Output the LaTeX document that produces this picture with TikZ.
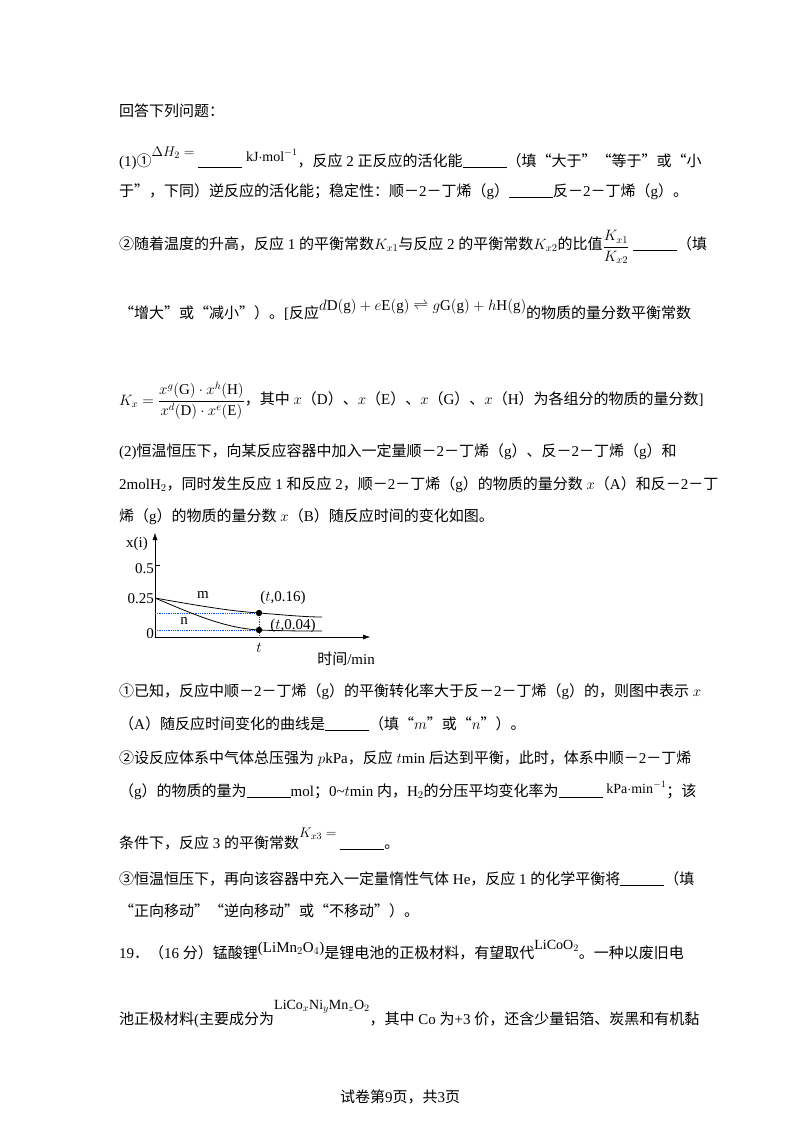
\documentclass[tikz,border=0pt]{standalone}
\usepackage{fix-cm}
\usepackage{amsmath}
\usepackage{fontspec}
\usetikzlibrary{arrows.meta}
\setmainfont{Liberation Serif}
\newfontfamily\cjkfont{Noto Sans CJK SC}
\newfontfamily\latinfont{Liberation Serif}
\newXeTeXintercharclass\CJKclass
\newcount\cc
\cc="4E00 \loop \XeTeXcharclass\cc=\CJKclass \advance\cc 1 \ifnum\cc<"A000 \repeat
\cc="3000 \loop \XeTeXcharclass\cc=\CJKclass \advance\cc 1 \ifnum\cc<"3040 \repeat
\cc="FF00 \loop \XeTeXcharclass\cc=\CJKclass \advance\cc 1 \ifnum\cc<"FFF0 \repeat
\cc="2460 \loop \XeTeXcharclass\cc=\CJKclass \advance\cc 1 \ifnum\cc<"2474 \repeat
\XeTeXcharclass"201C=\CJKclass
\XeTeXcharclass"201D=\CJKclass
\XeTeXinterchartoks 0 \CJKclass = {\cjkfont}
\XeTeXinterchartoks 4095 \CJKclass = {\cjkfont}
\XeTeXinterchartoks \CJKclass 0 = {\latinfont}
\XeTeXinterchartoks \CJKclass 4095 = {\latinfont}
\XeTeXinterchartokenstate=1
\newcommand{\blank}{\rule[-2pt]{44pt}{0.8pt}}
\newcommand{\sm}{\fontsize{14}{14}\selectfont}
\begin{document}
\begin{tikzpicture}[x=1pt,y=-1pt,
  ln/.style={anchor=base west,inner sep=0pt,font=\fontsize{15}{15}\selectfont},
  lab/.style={inner sep=0pt,font=\fontsize{15}{15}\selectfont},
  dotl/.style={blue!70!cyan,densely dotted,line width=0.8pt}]
\useasboundingbox (0,0) rectangle (800,1132);
\fill[white] (0,0) rectangle (800,1132);
\node[ln] (l1) at (119,116) {回答下列问题：};
\node[ln] (l2) at (119,166) {(1)①\raisebox{10pt}{\sm$\Delta H_2=$}\ \blank\ \raisebox{5pt}{\sm kJ$\cdot$mol$^{-1}$}，反应~2~正反应的活化能\blank（填“大于”“等于”或“小};
\node[ln] (l3) at (119,196) {于”，下同）逆反应的活化能；稳定性：顺－2－丁烯（g）\blank 反－2－丁烯（g）。};
\node[ln] (l4) at (119,249) {②随着温度的升高，反应~1~的平衡常数$K_{x1}$与反应~2~的平衡常数$K_{x2}$的比值\raisebox{-2pt}{$\dfrac{K_{x1}}{K_{x2}}$}\ \blank（填};
\node[ln] (l5) at (119,318) {“增大”或“减小”）。[反应\raisebox{8pt}{$d\mathrm{D(g)}+e\mathrm{E(g)}\rightleftharpoons g\mathrm{G(g)}+h\mathrm{H(g)}$}的物质的量分数平衡常数};
\node[ln] (l6) at (119,404) {\raisebox{-1pt}{$K_x=\dfrac{x^g(\mathrm{G})\cdot x^h(\mathrm{H})}{x^d(\mathrm{D})\cdot x^e(\mathrm{E})}$}，其中~$x$（D）、$x$（E）、$x$（G）、$x$（H）为各组分的物质的量分数]};
\node[ln] (l7) at (119,456) {(2)恒温恒压下，向某反应容器中加入一定量顺－2－丁烯（g）、反－2－丁烯（g）和};
\node[ln] (l8) at (119,489) {2molH$_2$，同时发生反应~1~和反应~2，顺－2－丁烯（g）的物质的量分数~$x$（A）和反－2－丁};
\node[ln] (l9) at (119,521) {烯（g）的物质的量分数~$x$（B）随反应时间的变化如图。};
% graph
\coordinate (O) at (155,637);
\coordinate (ytop) at (155,533);
\coordinate (xend) at (370,637);
\draw[-{Latex[length=7pt,width=5pt]}] (O) -- (ytop);
\draw[-{Latex[length=7pt,width=5pt]}] (O) -- (xend);
\draw (155,565) -- (160,565);
\node[lab,anchor=east] (t05) at (154,569) {0.5};
\node[lab,anchor=east] (t025) at (154,599) {0.25};
\node[lab,anchor=east] (t0) at (154,634) {0};
\node[lab] (xi) at (137,544) {x(i)};
\coordinate (s) at (155,598);
\coordinate (P1) at (259,613);
\coordinate (P2) at (259,630);
\coordinate (m2) at (322,617);
\coordinate (n2) at (322,631);
\draw[dotl] (155,613) -- (P1) -- (259,637);
\draw[dotl] (155,630) -- (P2);
\draw[line width=0.8pt] (s) .. controls (200,606) and (230,611) .. (P1) .. controls (285,615) and (305,617) .. (m2);
\draw[line width=0.8pt] (s) .. controls (195,615) and (225,628) .. (P2) .. controls (285,631) and (305,631) .. (n2);
\fill (P1) circle (3.2pt);
\fill (P2) circle (3.2pt);
\node[lab] (m) at (203,595) {m};
\node[lab] (n) at (184,621) {n};
\node[lab] (a1) at (283,598) {($t$,0.16)};
\node[lab] (a2) at (293,626) {($t$,0.04)};
\node[lab] (tt) at (259,648) {$t$};
\node[lab] (tm) at (346,659) {时间/min};
\node[ln] (l10) at (119,696) {①已知，反应中顺－2－丁烯（g）的平衡转化率大于反－2－丁烯（g）的，则图中表示~$x$};
\node[ln] (l11) at (119,729) {（A）随反应时间变化的曲线是\blank（填“$m$”或“$n$”）。};
\node[ln] (l12) at (119,763) {②设反应体系中气体总压强为~$p$kPa，反应~$t$min~后达到平衡，此时，体系中顺－2－丁烯};
\node[ln] (l13) at (119,796) {（g）的物质的量为\blank mol；0\textasciitilde$t$min~内，H$_2$的分压平均变化率为\blank\ \raisebox{3pt}{\sm kPa$\cdot$min$^{-1}$}；该};
\node[ln] (l14) at (119,848) {条件下，反应~3~的平衡常数\raisebox{11pt}{\sm$K_{x3}=$}\ \blank。};
\node[ln] (l15) at (119,884) {③恒温恒压下，再向该容器中充入一定量惰性气体~He，反应~1~的化学平衡将\blank（填};
\node[ln] (l16) at (119,916) {“正向移动”“逆向移动”或“不移动”）。};
\node[ln] (l17) at (119,958) {19．（16~分）锰酸锂\raisebox{6pt}{(LiMn$_2$O$_4$)}是锂电池的正极材料，有望取代\raisebox{9pt}{\sm LiCoO$_2$}。一种以废旧电};
\node[ln] (l18) at (119,1024) {池正极材料(主要成分为\raisebox{15pt}{\sm LiCo$_x$Ni$_y$Mn$_z$O$_2$}，其中~Co~为+3~价，还含少量铝箔、炭黑和有机黏};
\node[ln,anchor=base] (foot) at (400,1102) {试卷第9页，共3页};
\end{tikzpicture}
\end{document}
